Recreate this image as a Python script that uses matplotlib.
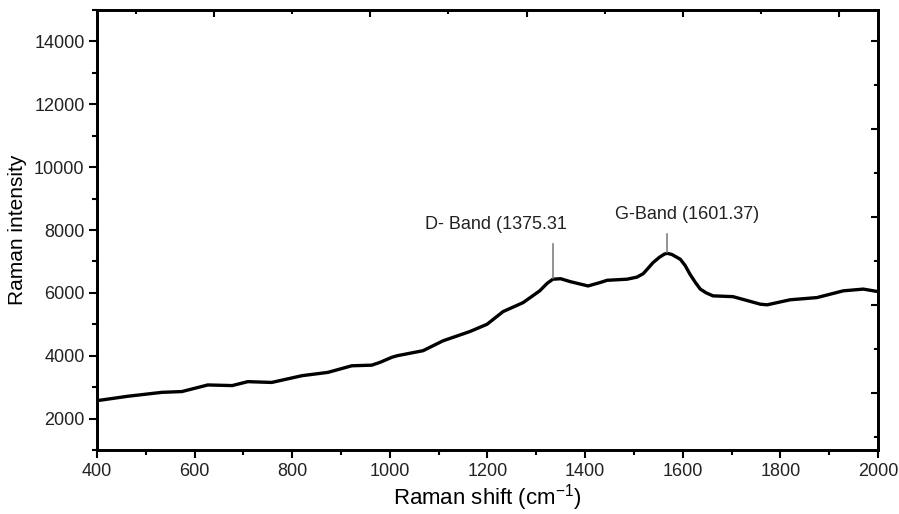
import numpy as np
import matplotlib.pyplot as plt
from matplotlib.ticker import MultipleLocator

plt.rcParams['font.family'] = ['Liberation Sans', 'DejaVu Sans']

# spectrum
shift = [400, 463, 533, 574, 627, 677, 709, 758, 820, 873, 922, 963, 980,
         1004, 1015, 1068, 1109, 1164, 1199, 1232, 1273, 1307, 1322, 1334,
         1350, 1369, 1406, 1431, 1445, 1486, 1506, 1519, 1530, 1539, 1552,
         1562, 1568, 1578, 1595, 1605, 1615, 1626, 1636, 1648, 1662, 1703,
         1759, 1773, 1820, 1875, 1929, 1970, 2000]
intensity = [2570, 2710, 2835, 2860, 3070, 3050, 3175, 3150, 3365, 3470,
             3680, 3700, 3790, 3950, 4000, 4160, 4475, 4770, 5000, 5405,
             5690, 6065, 6300, 6435, 6450, 6360, 6220, 6330, 6400, 6435,
             6500, 6610, 6800, 6960, 7130, 7230, 7260, 7220, 7070, 6870,
             6590, 6330, 6120, 6000, 5905, 5880, 5640, 5620, 5780, 5850,
             6065, 6120, 6040]

d_pos, d_label = 1334, 'D- Band (1375.31'
g_pos, g_label = 1568, 'G-Band (1601.37)'

fig = plt.figure(figsize=(8.99, 5.14), dpi=100)
ax = fig.add_axes([0.1079, 0.1245, 0.8687, 0.856])

ax.plot(shift, intensity, color='black', lw=2.4, solid_joinstyle='round')

# peak markers
ax.plot([d_pos, d_pos], [6480, 7550], color='#808080', lw=1.2)
ax.plot([g_pos, g_pos], [7300, 7870], color='#808080', lw=1.2)
ax.text(1217, 8180, d_label, ha='center', va='center', fontsize=13, color='#222222')
ax.text(1609, 8480, g_label, ha='center', va='center', fontsize=13, color='#222222')

ax.set_xlim(400, 2000)
ax.set_ylim(1000, 15000)
ax.xaxis.set_major_locator(MultipleLocator(200))
ax.xaxis.set_minor_locator(MultipleLocator(100))
ax.yaxis.set_minor_locator(MultipleLocator(1000))
ax.set_yticks([2000, 4000, 6000, 8000, 10000, 12000, 14000])
ax.tick_params(which='major', direction='out', length=6, width=1.5,
               labelsize=13, labelcolor='#222222', pad=3)
ax.tick_params(which='minor', direction='out', length=3.5, width=1.5)
ax.tick_params(top=False, right=False)
for s in ax.spines.values():
    s.set_linewidth(1.8)

ax.set_xlabel('Raman shift (cm$^{\\mathregular{-1}}$)', fontsize=16, labelpad=2)
ax.set_ylabel('Raman intensity', fontsize=15, labelpad=5)

# top and right axes carry their own inward ticks
axt = ax.twiny()
axt.set_xlim(400, 2000)
axt.xaxis.set_major_locator(MultipleLocator(320))
axt.xaxis.set_minor_locator(MultipleLocator(160))
axt.tick_params(which='both', direction='in', width=1.5, labeltop=False)
axt.tick_params(which='major', length=5)
axt.tick_params(which='minor', length=3)

axr = ax.twinx()
axr.set_ylim(1000, 15000)
axr.yaxis.set_major_locator(MultipleLocator(2800))
axr.yaxis.set_minor_locator(MultipleLocator(1400))
axr.tick_params(which='both', direction='in', width=1.5, labelright=False)
axr.tick_params(which='major', length=5)
axr.tick_params(which='minor', length=3)
for a in (axt, axr):
    for s in a.spines.values():
        s.set_linewidth(1.8)

fig.savefig('out.png', dpi=100)
